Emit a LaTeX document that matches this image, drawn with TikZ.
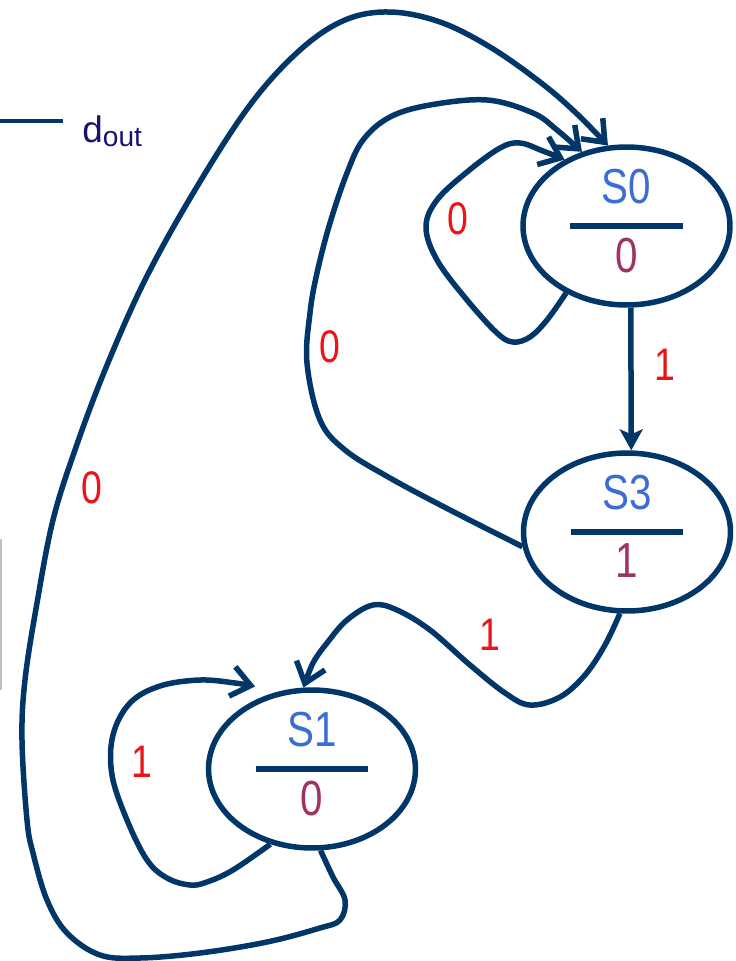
\documentclass[tikz,border=0pt]{standalone}
\usepackage{fontspec}
\setmainfont{Liberation Sans}
\newfontfamily\narrowsans[FakeStretch=0.82]{Liberation Sans}
\usetikzlibrary{arrows.meta,shapes.geometric}

\definecolor{fsmnavy}{RGB}{0,54,104}
\definecolor{fsmblue}{RGB}{58,110,212}
\definecolor{fsmplum}{RGB}{158,52,100}
\definecolor{fsmred}{RGB}{236,20,24}
\definecolor{fsmink}{RGB}{20,20,110}

\tikzset{
  fsmstate/.style={ellipse, draw=fsmnavy, line width=0.11cm, minimum width=4.14cm, minimum height=3.16cm, inner sep=0pt},
  stname/.style={text=fsmblue, font=\narrowsans\fontsize{28}{30}\selectfont, inner sep=0pt},
  stout/.style={text=fsmplum, font=\narrowsans\fontsize{28}{30}\selectfont, inner sep=0pt},
  divider/.style={draw=fsmnavy, line width=0.11cm},
  trans/.style={draw=fsmnavy, line width=0.11cm, line join=round, -{Straight Barb[length=3.8mm,width=6mm]}},
  cond/.style={text=fsmred, font=\narrowsans\fontsize{26}{28}\selectfont, inner sep=0pt}
}

\begin{document}
\begin{tikzpicture}[x=0.02cm, y=-0.02cm]
		%%%%% START %%%%%
		\useasboundingbox (0,0) rectangle (736,961);
		
		% output wire and its name
		\coordinate (dwire) at (0,121);
		\node[font=\fontsize{21}{24}\selectfont, text=fsmink, anchor=base west, inner sep=0pt] (dout) at (82,142) {d\raisebox{-2.3pt}{\fontsize{16}{16}\selectfont out}};
		\draw[divider, line width=0.09cm, shorten >=0.38cm] (dwire) -- (dwire -| dout.west);
		\draw[line width=0.04cm, black!25] (1,539) -- (1,690);
		
		% states
		\node[fsmstate] (s0) at (626.5,226) {};
		\node[fsmstate] (s3) at (627,532) {};
		\node[fsmstate] (s1) at (312,769) {};
		
		\node[stname] (s0name) at ([yshift=0.78cm]s0.center) {S0};
		\node[stout] (s0out) at ([yshift=-0.6cm]s0.center) {0};
		\draw[divider] ([xshift=-1.13cm]s0.center) -- ([xshift=1.13cm]s0.center);
		
		\node[stname] (s3name) at ([yshift=0.78cm]s3.center) {S3};
		\node[stout] (s3out) at ([yshift=-0.58cm]s3.center) {1};
		\draw[divider] ([xshift=-1.13cm]s3.center) -- ([xshift=1.13cm]s3.center);
		
		\node[stname] (s1name) at ([yshift=0.78cm]s1.center) {S1};
		\node[stout] (s1out) at ([yshift=-0.6cm]s1.center) {0};
		\draw[divider] ([xshift=-1.13cm]s1.center) -- ([xshift=1.13cm]s1.center);
		
		% transitions
		\draw[trans, -{Stealth[length=4.2mm,width=4.6mm,inset=1mm]}] (s0.-87) -- (s3.87);
		\node[cond] (c01) at (665,365) {1};
		
		\draw[trans] plot[smooth, tension=0.6] coordinates {(s0.-132) (547,320) (530,337) (513,342) (497,333) (467,300) (437,260) (426,227) (437,200) (467,172) (500,148) (520,143) (543,151) (s0.133)};
		\node[cond] (c00) at (458,219) {0};
		
		\draw[trans] plot[smooth, tension=0.6] coordinates {(s3.-172) (450,510) (390,478) (345,450) (320,420) (307,363) (310,313) (317,273) (330,223) (347,173) (363,140) (390,117) (430,105) (487,100) (533,113) (557,130) (s0.121)};
		\node[cond] (c30) at (330,347) {0};
		
		\draw[trans] plot[smooth, tension=0.6] coordinates {(s3.-95) (605,645) (585,675) (560,697) (530,705) (505,693) (470,665) (430,630) (397,610) (373,605) (347,620) (327,643) (313,663) (s1.96)};
		\node[cond] (c31) at (490,635) {1};
		
		\draw[trans] plot[smooth, tension=0.6] coordinates {(s1.-119) (233,870) (207,882) (190,885) (167,878) (147,860) (127,820) (112,775) (113,735) (130,703) (160,686) (200,680) (235,683) ([shift={(-8,-10)}]s1.124)};
		\node[cond] (c11) at (142,762) {1};
		
		\draw[trans] plot[smooth, tension=0.6] coordinates {(s1.-84) (333,877) (345,900) (340,920) (320,928) (267,942) (200,953) (140,958) (100,955) (67,933) (47,900) (33,853) (27,820) (22,740) (25,680) (37,603) (53,520) (75,450) (105,370) (145,280) (195,190) (250,105) (300,50) (345,20) (390,12) (440,22) (490,47) (540,82) (575,112) (s0.103)};
		\node[cond] (c10) at (92,488) {0};
		
		%%%%% END %%%%%
	\end{tikzpicture}
\end{document}
